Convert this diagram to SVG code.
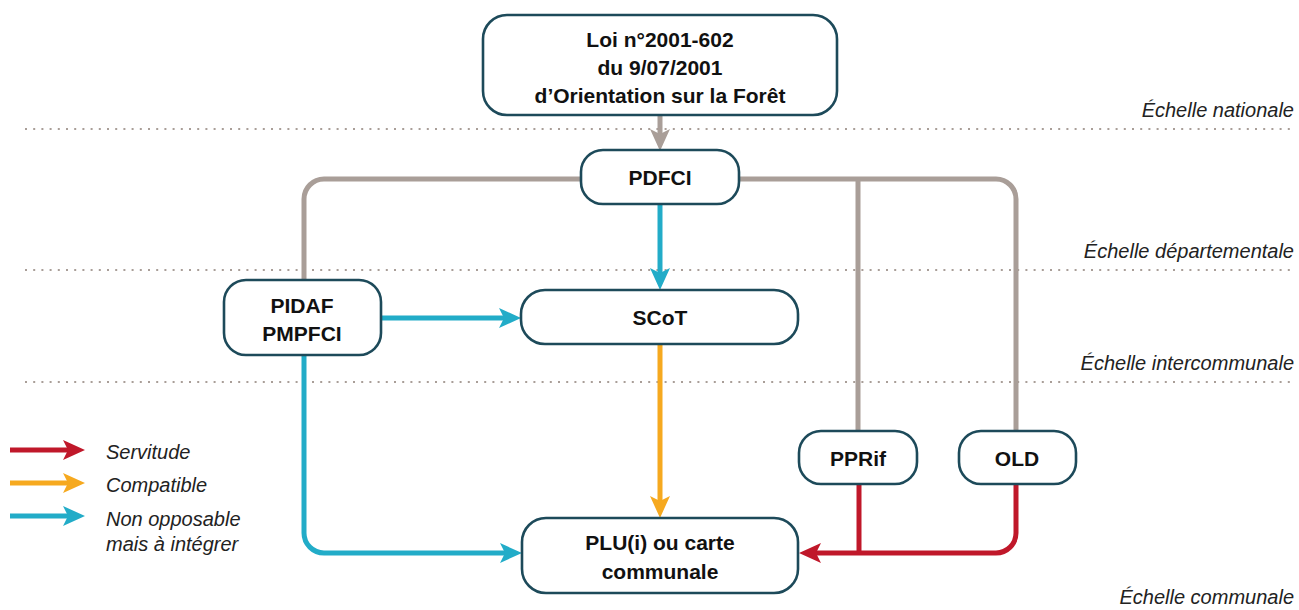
<svg xmlns="http://www.w3.org/2000/svg" width="1299" height="610" viewBox="0 0 1299 610">
<style>
.node rect{fill:#fff;stroke:#1d4a5a;stroke-width:2.6}
.node text{font-family:"Liberation Sans",Arial,sans-serif;font-weight:bold;font-size:21px;fill:#111;text-anchor:middle}
.scale{font-family:"Liberation Sans",Arial,sans-serif;font-style:italic;font-size:20px;fill:#222;text-anchor:end}
.leg{font-family:"Liberation Sans",Arial,sans-serif;font-style:italic;font-size:20px;fill:#222}
.dot{stroke:#a99e98;stroke-width:2.2;stroke-dasharray:2 6.2;fill:none}
.c{fill:none;stroke-width:5;stroke-linejoin:round}
.gray{stroke:#a99e98}
.teal{stroke:#22acc8}
.orange{stroke:#f6a91f}
.red{stroke:#c0182a}
</style>
<defs>
<marker id="ag" markerUnits="userSpaceOnUse" viewBox="0 0 22 20" refX="5" refY="10" markerWidth="22" markerHeight="20" orient="auto"><path d="M0,0 L22,10 L0,20 L5,10 Z" fill="#a99e98"/></marker>
<marker id="at" markerUnits="userSpaceOnUse" viewBox="0 0 22 20" refX="5" refY="10" markerWidth="22" markerHeight="20" orient="auto"><path d="M0,0 L22,10 L0,20 L5,10 Z" fill="#22acc8"/></marker>
<marker id="ao" markerUnits="userSpaceOnUse" viewBox="0 0 22 20" refX="5" refY="10" markerWidth="22" markerHeight="20" orient="auto"><path d="M0,0 L22,10 L0,20 L5,10 Z" fill="#f6a91f"/></marker>
<marker id="ar" markerUnits="userSpaceOnUse" viewBox="0 0 22 20" refX="5" refY="10" markerWidth="22" markerHeight="20" orient="auto"><path d="M0,0 L22,10 L0,20 L5,10 Z" fill="#c0182a"/></marker>
</defs>

<g id="scales">
<line class="dot" x1="25" y1="129" x2="1296" y2="129"/>
<line class="dot" x1="25" y1="270" x2="1296" y2="270"/>
<line class="dot" x1="25" y1="382" x2="1296" y2="382"/>
<text class="scale" x="1294" y="117">Échelle nationale</text>
<text class="scale" x="1294" y="258">Échelle départementale</text>
<text class="scale" x="1294" y="370">Échelle intercommunale</text>
<text class="scale" x="1294" y="604">Échelle communale</text>
</g>

<g id="connectors">
<path class="c gray" d="M660,115 V134" marker-end="url(#ag)"/>
<path class="c gray" d="M581,179 H324 A20,20 0 0 0 304,199 V280"/>
<path class="c gray" d="M739,179 H996 A20,20 0 0 1 1016,199 V431"/>
<path class="c gray" d="M858,179 V431"/>
<path class="c teal" d="M660,204 V273" marker-end="url(#at)"/>
<path class="c teal" d="M381,318 H504" marker-end="url(#at)"/>
<path class="c orange" d="M660,344 V501" marker-end="url(#ao)"/>
<path class="c teal" d="M304,355 V533 A20,20 0 0 0 324,553 H505" marker-end="url(#at)"/>
<path class="c red" d="M1016,484 V533 A20,20 0 0 1 996,553 H816" marker-end="url(#ar)"/>
<path class="c red" d="M859,484 V553"/>
</g>

<g id="node-loi" class="node">
<rect x="483" y="15" width="354" height="100" rx="24"/>
<text x="660" y="47">Loi n°2001-602</text>
<text x="660" y="75">du 9/07/2001</text>
<text x="660" y="103">d’Orientation sur la Forêt</text>
</g>
<g id="node-pdfci" class="node">
<rect x="581" y="150" width="158" height="54" rx="22"/>
<text x="660" y="185">PDFCI</text>
</g>
<g id="node-pidaf" class="node">
<rect x="224" y="280" width="157" height="75" rx="22"/>
<text x="302" y="313">PIDAF</text>
<text x="302" y="341">PMPFCI</text>
</g>
<g id="node-scot" class="node">
<rect x="521" y="290" width="277" height="54" rx="24"/>
<text x="660" y="325">SCoT</text>
</g>
<g id="node-pprif" class="node">
<rect x="799" y="431" width="118" height="53" rx="22"/>
<text x="858" y="466">PPRif</text>
</g>
<g id="node-old" class="node">
<rect x="959" y="431" width="117" height="53" rx="22"/>
<text x="1017" y="466">OLD</text>
</g>
<g id="node-plu" class="node">
<rect x="522" y="518" width="276" height="75" rx="24"/>
<text x="660" y="550">PLU(i) ou carte</text>
<text x="660" y="579">communale</text>
</g>

<g id="legend">
<path class="c red" d="M10,450 H68" marker-end="url(#ar)"/>
<path class="c orange" d="M10,483 H68" marker-end="url(#ao)"/>
<path class="c teal" d="M10,516 H68" marker-end="url(#at)"/>
<text class="leg" x="106" y="459">Servitude</text>
<text class="leg" x="106" y="492">Compatible</text>
<text class="leg" x="106" y="526">Non opposable</text>
<text class="leg" x="106" y="551">mais à intégrer</text>
</g>
</svg>
